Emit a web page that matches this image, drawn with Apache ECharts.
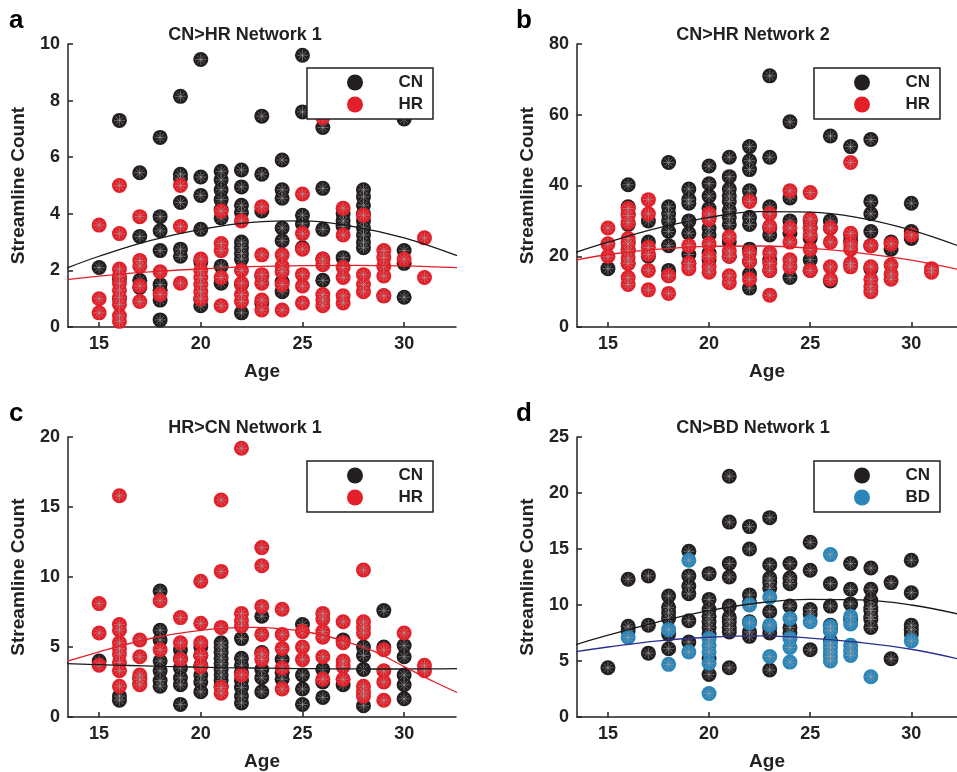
<!DOCTYPE html>
<html>
<head>
<meta charset="utf-8">
<script src="https://cdn.jsdelivr.net/npm/echarts@6/dist/echarts.min.js"></script>
<style>
  html, body { margin: 0; padding: 0; background: #fff; }
  #main { width: 957px; height: 772px; }
</style>
</head>
<body>
<div id="main"></div>
<script>
// ---- data (age, streamline count) ----
var xTicks = [15, 20, 25, 30];

// a: CN>HR Network 1
var aCN = [
    [15, 2.1],
    [16, 7.3], [16, 1.7], [16, 1.0],
    [17, 5.45], [17, 3.2], [17, 1.65], [17, 1.4],
    [18, 6.7], [18, 3.9], [18, 3.4], [18, 2.7], [18, 1.5], [18, 1.3], [18, 0.95], [18, 0.25],
    [19, 8.15], [19, 5.4], [19, 5.25], [19, 4.4], [19, 2.75], [19, 2.5],
    [20, 9.45], [20, 5.3], [20, 4.65], [20, 3.45], [20, 2.3], [20, 1.0], [20, 0.75],
    [21, 5.5], [21, 5.2], [21, 4.85], [21, 4.5], [21, 4.15], [21, 3.85], [21, 2.15], [21, 1.55],
    [22, 5.55], [22, 4.95], [22, 4.3], [22, 4.05], [22, 3.0], [22, 2.8], [22, 2.6], [22, 2.4], [22, 1.5], [22, 0.5],
    [23, 7.45], [23, 5.4], [23, 4.1], [23, 1.8], [23, 0.85],
    [24, 5.9], [24, 4.85], [24, 4.55], [24, 3.5], [24, 3.05], [24, 1.6], [24, 1.25],
    [25, 9.6], [25, 7.6], [25, 3.95], [25, 3.65], [25, 2.8],
    [26, 7.05], [26, 4.9], [26, 3.45], [26, 2.4], [26, 1.65],
    [27, 4.0], [27, 3.75], [27, 3.55], [27, 2.45],
    [28, 4.85], [28, 4.6], [28, 4.3], [28, 4.0], [28, 3.75], [28, 3.5], [28, 3.25], [28, 3.0], [28, 2.8],
    [29, 1.1],
    [30, 7.35], [30, 2.7], [30, 2.25], [30, 1.05]
];
var aHR = [
    [15, 3.6], [15, 1.0], [15, 0.5],
    [16, 5.0], [16, 3.3], [16, 2.05], [16, 1.8], [16, 1.55], [16, 1.3], [16, 1.05], [16, 0.8], [16, 0.4], [16, 0.2],
    [17, 3.9], [17, 2.35], [17, 2.15], [17, 1.45], [17, 0.9],
    [18, 1.95], [18, 1.15],
    [19, 5.0], [19, 3.55], [19, 1.55],
    [20, 2.4], [20, 2.0], [20, 1.75], [20, 1.5], [20, 1.25], [20, 1.0],
    [21, 4.1], [21, 2.95], [21, 2.7], [21, 1.75], [21, 0.75],
    [22, 3.75], [22, 2.0], [22, 1.55], [22, 1.15], [22, 0.9],
    [23, 4.25], [23, 2.55], [23, 1.85], [23, 1.55], [23, 0.95], [23, 0.6],
    [24, 2.55], [24, 2.15], [24, 1.95], [24, 1.5], [24, 0.6],
    [25, 4.7], [25, 3.3], [25, 2.75], [25, 1.85], [25, 1.45], [25, 0.85],
    [26, 7.4], [26, 2.4], [26, 2.2], [26, 1.15], [26, 0.95], [26, 0.75],
    [27, 4.2], [27, 3.25], [27, 2.1], [27, 1.75], [27, 1.1], [27, 0.85],
    [28, 3.95], [28, 1.85], [28, 1.5], [28, 1.25],
    [29, 2.7], [29, 2.45], [29, 2.15], [29, 1.8], [29, 1.1],
    [30, 2.4],
    [31, 3.15], [31, 1.75]
];
var aFitX = [13.4, 15, 17.5, 20, 22.5, 25, 27.5, 30, 32.6];
var aFitCN = [2.08, 2.5, 3.05, 3.45, 3.7, 3.75, 3.55, 3.15, 2.52];
var aFitHR = [1.67, 1.8, 1.95, 2.05, 2.13, 2.17, 2.18, 2.16, 2.1];

// b: CN>HR Network 2
var bCN = [
    [15, 16.5],
    [16, 40.2], [16, 34], [16, 32], [16, 29], [16, 24], [16, 22], [16, 18],
    [17, 30], [17, 24], [17, 20],
    [18, 46.5], [18, 34], [18, 32], [18, 30], [18, 27], [18, 23], [18, 16], [18, 14.5],
    [19, 39], [19, 36], [19, 35], [19, 30], [19, 26.5], [19, 20.5], [19, 18],
    [20, 45.5], [20, 40.5], [20, 37], [20, 33.5], [20, 31], [20, 28], [20, 26], [20, 21], [20, 19],
    [21, 48], [21, 42.5], [21, 39], [21, 37], [21, 35.5], [21, 33], [21, 31], [21, 29], [21, 24], [21, 20],
    [22, 51], [22, 47], [22, 44.5], [22, 38.5], [22, 36], [22, 31], [22, 29], [22, 22], [22, 18.5], [22, 15], [22, 11],
    [23, 71], [23, 48], [23, 34], [23, 28], [23, 26], [23, 19], [23, 16],
    [24, 58], [24, 36.5], [24, 30], [24, 26.5], [24, 14],
    [25, 30], [25, 28], [25, 25], [25, 19], [25, 16],
    [26, 54], [26, 30], [26, 28], [26, 13],
    [27, 51], [27, 26], [27, 24.5],
    [28, 53], [28, 35.5], [28, 32], [28, 27], [28, 23], [28, 16.5],
    [29, 24], [29, 22],
    [30, 35], [30, 27], [30, 25]
];
var bHR = [
    [15, 28], [15, 23.5], [15, 20],
    [16, 33.5], [16, 31.5], [16, 29.5], [16, 25], [16, 23.5], [16, 21.5], [16, 19.5], [16, 18], [16, 14], [16, 12],
    [17, 36], [17, 32], [17, 22.5], [17, 20.5], [17, 16], [17, 10.5],
    [18, 14.5], [18, 9.5],
    [19, 23], [19, 18], [19, 16.5],
    [20, 32], [20, 30.5], [20, 23.5], [20, 20], [20, 17], [20, 15.5],
    [21, 25.5], [21, 21.5], [21, 20], [21, 14.5], [21, 12.5],
    [22, 35.5], [22, 21], [22, 18.5], [22, 13.5],
    [23, 32], [23, 28.5], [23, 21], [23, 18], [23, 16], [23, 9],
    [24, 38.5], [24, 28], [24, 24], [24, 19], [24, 17],
    [25, 38], [25, 30.5], [25, 28], [25, 26], [25, 22], [25, 16],
    [26, 28], [26, 24], [26, 17], [26, 13.5],
    [27, 46.5], [27, 26.5], [27, 23.5], [27, 22], [27, 18], [27, 17],
    [28, 23], [28, 17], [28, 13.5], [28, 11.5], [28, 10],
    [29, 23.5], [29, 17.5], [29, 15], [29, 13.5],
    [30, 26],
    [31, 16.5], [31, 15.5]
];
var bFitX = [13.4, 15, 17.5, 20, 22.5, 25, 27.5, 30, 32.3];
var bFitCN = [21.1, 24, 28, 31, 32.6, 32.5, 30.8, 27.4, 23];
var bFitHR = [18.9, 20.5, 22, 22.8, 22.9, 22.3, 20.9, 18.9, 16.3];

// c: HR>CN Network 1
var cCN = [
    [15, 4.0],
    [16, 1.5], [16, 1.2],
    [17, 2.8], [17, 2.4],
    [18, 9.0], [18, 6.2], [18, 5.5], [18, 4.0], [18, 3.3], [18, 2.6], [18, 2.2],
    [19, 4.8], [19, 4.2], [19, 3.5], [19, 2.8], [19, 2.3], [19, 0.9],
    [20, 5.0], [20, 4.4], [20, 3.7], [20, 3.0], [20, 2.5], [20, 1.8],
    [21, 5.3], [21, 5.0], [21, 4.6], [21, 4.2], [21, 3.8], [21, 3.4], [21, 3.0], [21, 2.6], [21, 2.2],
    [22, 5.6], [22, 4.2], [22, 3.7], [22, 3.2], [22, 2.6], [22, 2.1], [22, 1.5], [22, 1.0],
    [23, 7.2], [23, 4.6], [23, 3.4], [23, 2.8], [23, 1.8],
    [24, 4.1], [24, 3.2], [24, 2.7],
    [25, 6.6], [25, 3.0], [25, 2.0], [25, 0.9],
    [26, 3.4], [26, 2.5], [26, 1.4],
    [27, 5.5], [27, 2.3],
    [28, 5.0], [28, 4.4], [28, 3.4], [28, 0.8],
    [29, 7.6], [29, 5.0],
    [30, 5.1], [30, 4.3], [30, 3.0], [30, 2.3], [30, 1.3]
];
var cHR = [
    [15, 8.1], [15, 6.0], [15, 3.7],
    [16, 15.8], [16, 6.6], [16, 6.2], [16, 5.3], [16, 4.9], [16, 4.5], [16, 3.9], [16, 3.3], [16, 2.2],
    [17, 5.5], [17, 4.3], [17, 3.0], [17, 2.7], [17, 2.3],
    [18, 8.3], [18, 4.8],
    [19, 7.1], [19, 5.3], [19, 4.1],
    [20, 9.7], [20, 6.7], [20, 5.3], [20, 4.4], [20, 3.6],
    [21, 15.5], [21, 10.4], [21, 6.4], [21, 2.1], [21, 1.7],
    [22, 19.2], [22, 7.4], [22, 6.9], [22, 6.5], [22, 3.0],
    [23, 12.1], [23, 10.8], [23, 7.9], [23, 5.9], [23, 4.5], [23, 4.1],
    [24, 7.7], [24, 5.9], [24, 4.9], [24, 3.5], [24, 2.0],
    [25, 6.1], [25, 5.0], [25, 4.1],
    [26, 7.4], [26, 7.0], [26, 6.1], [26, 5.7], [26, 4.3], [26, 2.7],
    [27, 6.8], [27, 5.3], [27, 4.0], [27, 3.6], [27, 2.7],
    [28, 10.5], [28, 6.8], [28, 6.4], [28, 6.0], [28, 2.2], [28, 1.8], [28, 1.5],
    [29, 4.8], [29, 3.3], [29, 2.5], [29, 1.2],
    [30, 6.0],
    [31, 3.7], [31, 3.3]
];
var cFitX = [13.4, 15, 16.5, 18, 19.5, 21, 22.5, 24, 25.5, 27, 28.5, 30, 31.5, 32.6];
var cFitCN = [3.81, 3.74, 3.68, 3.62, 3.57, 3.53, 3.5, 3.47, 3.45, 3.44, 3.43, 3.43, 3.44, 3.45];
var cFitHR = [3.97, 4.65, 5.25, 5.75, 6.1, 6.33, 6.4, 6.3, 6.0, 5.45, 4.7, 3.6, 2.5, 1.75];

// d: CN>BD Network 1
var dCN = [
    [15, 4.4],
    [16, 12.3], [16, 8.1], [16, 7.7],
    [17, 12.6], [17, 8.2], [17, 5.7],
    [18, 10.8], [18, 9.8], [18, 9.3], [18, 8.8], [18, 7.4], [18, 6.1],
    [19, 14.8], [19, 12.6], [19, 11.7], [19, 11.0], [19, 8.6], [19, 6.7],
    [20, 12.8], [20, 10.5], [20, 9.6], [20, 9.0], [20, 8.5], [20, 8.0], [20, 7.4], [20, 5.2], [20, 3.8],
    [21, 21.5], [21, 17.4], [21, 13.7], [21, 12.5], [21, 9.9], [21, 8.9], [21, 8.5], [21, 8.0], [21, 7.6], [21, 4.4],
    [22, 17.0], [22, 15.0], [22, 10.9], [22, 10.2], [22, 8.5], [22, 7.6], [22, 7.2],
    [23, 17.8], [23, 13.6], [23, 12.4], [23, 12.0], [23, 11.5], [23, 9.4], [23, 8.0], [23, 7.5], [23, 4.2],
    [24, 13.7], [24, 12.4], [24, 11.9], [24, 9.9], [24, 8.0], [24, 7.5],
    [25, 15.6], [25, 13.1], [25, 9.6], [25, 9.2], [25, 6.0],
    [26, 11.9], [26, 9.9], [26, 8.2], [26, 7.8], [26, 6.8],
    [27, 13.7], [27, 11.4], [27, 10.1], [27, 8.7],
    [28, 13.3], [28, 11.4], [28, 10.4], [28, 9.8], [28, 9.5], [28, 9.0], [28, 8.7], [28, 8.0],
    [29, 12.0], [29, 5.2],
    [30, 14.0], [30, 11.1], [30, 8.2], [30, 7.8], [30, 7.4]
];
var dBD = [
    [16, 7.1],
    [18, 7.8], [18, 4.7],
    [19, 14.0], [19, 5.8],
    [20, 7.0], [20, 6.4], [20, 5.8], [20, 4.8], [20, 2.1],
    [22, 10.0], [22, 8.4],
    [23, 10.7], [23, 8.2], [23, 5.4],
    [24, 8.8], [24, 7.0], [24, 6.2], [24, 4.9],
    [25, 8.5],
    [26, 14.5], [26, 8.1], [26, 7.7], [26, 6.6], [26, 6.2], [26, 5.8], [26, 5.4], [26, 5.0],
    [27, 9.0], [27, 8.3], [27, 6.4], [27, 5.9], [27, 5.5],
    [28, 3.6],
    [30, 6.8]
];
var dFitX = [13.4, 15, 17.5, 20, 22.5, 25, 27.5, 30, 32.3];
var dFitCN = [6.45, 7.3, 8.5, 9.5, 10.2, 10.5, 10.45, 10.0, 9.2];
var dFitBD = [5.83, 6.25, 6.8, 7.12, 7.24, 7.05, 6.65, 6.05, 5.2];

var titles = ['CN>HR Network 1', 'CN>HR Network 2', 'HR>CN Network 1', 'CN>BD Network 1'];
var letters = ['a', 'b', 'c', 'd'];
var yMax = [10, 80, 20, 25];
var yInterval = [2, 20, 5, 5];

// ---- layout ----
var FONT = 'Liberation Sans';
var INK = '#222';
var grids = [
    {left: 68, top: 44, width: 388, height: 283},
    {left: 577, top: 44, width: 380, height: 283},
    {left: 68, top: 437, width: 388, height: 280},
    {left: 577, top: 437, width: 380, height: 280}
];
var xMax = [32.55, 32.26, 32.55, 32.26];
var COLORS = {CN: '#231f20', HR: '#e3202a', BD: '#2a85b9'};
var FITCOL = {CN: '#1a1a1a', HR: '#e3202a', BD: '#2b2f8f'};
var STAR = 'path://M10,0L10,20M0,10L20,10M3,3L17,17M3,17L17,3';

function pairs(xs, ys) {
    var out = [];
    for (var i = 0; i < xs.length; i++) out.push([xs[i], ys[i]]);
    return out;
}

var panels = [
    {g: ['CN', 'HR'], pts: [aCN, aHR], fit: [pairs(aFitX, aFitCN), pairs(aFitX, aFitHR)]},
    {g: ['CN', 'HR'], pts: [bCN, bHR], fit: [pairs(bFitX, bFitCN), pairs(bFitX, bFitHR)]},
    {g: ['CN', 'HR'], pts: [cCN, cHR], fit: [pairs(cFitX, cFitCN), pairs(cFitX, cFitHR)]},
    {g: ['CN', 'BD'], pts: [dCN, dBD], fit: [pairs(dFitX, dFitCN), pairs(dFitX, dFitBD)]}
];

var xAxes = [], yAxes = [], series = [], legends = [], graphics = [];
var nameText = {fontFamily: FONT, fontWeight: 'bold', fontSize: 19, color: INK};

panels.forEach(function (p, i) {
    var gr = grids[i];
    xAxes.push({
        gridIndex: i, type: 'value', min: 13.47, max: xMax[i],
        name: 'Age', nameLocation: 'middle', nameGap: 35, nameTextStyle: nameText,
        axisLine: {show: true, onZero: false, lineStyle: {color: INK, width: 1.5}},
        axisTick: {show: true, inside: true, length: 5, customValues: xTicks, lineStyle: {color: INK, width: 1.5}},
        axisLabel: {customValues: xTicks, margin: 8, fontFamily: FONT, fontWeight: 'bold', fontSize: 18, color: INK},
        splitLine: {show: false}
    });
    yAxes.push({
        gridIndex: i, type: 'value', min: 0, max: yMax[i], interval: yInterval[i],
        name: 'Streamline Count', nameLocation: 'middle', nameGap: 40, nameTextStyle: nameText,
        axisLine: {show: true, lineStyle: {color: INK, width: 1.5}},
        axisTick: {show: true, inside: true, length: 5, lineStyle: {color: INK, width: 1.5}},
        axisLabel: {margin: 8, fontFamily: FONT, fontWeight: 'bold', fontSize: 18, color: INK},
        splitLine: {show: false}
    });

    // scatter groups: filled circle then the asterisk on top
    p.g.forEach(function (name, k) {
        series.push({
            name: name, type: 'scatter', xAxisIndex: i, yAxisIndex: i,
            symbol: 'circle', symbolSize: 15, data: p.pts[k],
            itemStyle: {color: COLORS[name], opacity: 1}
        });
        series.push({
            name: name + ' *', type: 'scatter', xAxisIndex: i, yAxisIndex: i,
            symbol: STAR, symbolSize: 11, data: p.pts[k], silent: true,
            itemStyle: {color: 'none', borderColor: 'rgba(165,165,165,0.85)', borderWidth: 0.8}
        });
    });
    p.g.forEach(function (name, k) {
        series.push({
            name: name + ' fit', type: 'line', xAxisIndex: i, yAxisIndex: i,
            data: p.fit[k], smooth: 0.4, showSymbol: false, symbol: 'none', clip: true,
            lineStyle: {color: FITCOL[name], width: 1.3}
        });
    });

    // boxed legend, top right of each panel
    legends.push({
        left: gr.left + (i % 2 ? 237 : 239), top: gr.top + 24,
        orient: 'vertical', data: p.g, selectedMode: false,
        backgroundColor: '#fff', borderColor: INK, borderWidth: 1.5,
        padding: [6, 10, 6, 40], itemWidth: 16, itemHeight: 16, itemGap: 5,
        formatter: '{r|{name}}',
        textStyle: {rich: {r: {width: 55, align: 'right', fontFamily: FONT, fontWeight: 'bold', fontSize: 17, color: INK}}}
    });

    graphics.push({
        type: 'text', x: gr.left + (i % 2 ? 176 : 177), y: gr.top - 18,
        style: {text: titles[i], font: 'bold 18px "' + FONT + '"', fill: INK,
            textAlign: 'center', align: 'center', textVerticalAlign: 'top', verticalAlign: 'top'}
    });
    graphics.push({
        type: 'text', x: i % 2 ? 516 : 9, y: gr.top - 36,
        style: {text: letters[i], font: 'bold 26px "' + FONT + '"', fill: '#000',
            textAlign: 'left', align: 'left', textVerticalAlign: 'top', verticalAlign: 'top'}
    });
});

var chart = echarts.init(document.getElementById('main'), null, {renderer: 'canvas'});
var option = {
    animation: false,
    backgroundColor: '#fff',
    textStyle: {fontFamily: FONT},
    grid: grids,
    xAxis: xAxes,
    yAxis: yAxes,
    legend: legends,
    graphic: graphics,
    series: series
};
chart.setOption(option);
</script>
</body>
</html>
